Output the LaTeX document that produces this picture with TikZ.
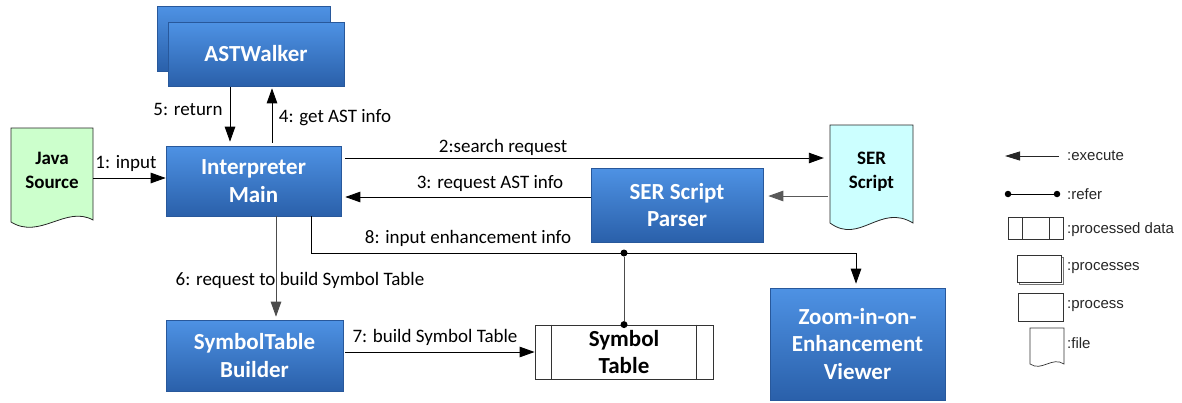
\documentclass[tikz,border=0pt]{standalone}
\usepackage{fontspec}
\setmainfont{Carlito}
\newfontfamily\legfont{Liberation Sans}
\usetikzlibrary{arrows.meta,calc}
\definecolor{bluetop}{RGB}{78,146,228}
\definecolor{bluebot}{RGB}{42,96,170}
\definecolor{blueedge}{RGB}{40,88,155}
\definecolor{javagreen}{RGB}{204,255,204}
\definecolor{sercyan}{RGB}{204,255,255}
\begin{document}
\begin{tikzpicture}[x=1pt,y=-1pt,
  bluebox/.style={rectangle, draw=blueedge, line width=0.6pt, top color=bluetop, bottom color=bluebot,
    text=white, font=\fontsize{23}{27.5}\selectfont\bfseries, align=center, inner sep=0pt},
  filetext/.style={font=\fontsize{19}{24}\selectfont\bfseries, align=center, inner sep=0pt},
  lbl/.style={font=\fontsize{19}{22}\selectfont, inner sep=0pt},
  exec/.style={draw=black, line width=0.9pt, -{Triangle[length=15pt,width=10.5pt]}},
  conn/.style={draw=black!80, line width=0.9pt},
  dot/.style={circle, fill=black, inner sep=0pt, minimum size=7pt},
  leg/.style={font=\legfont\fontsize{15}{18}\selectfont, anchor=west, inner sep=0pt, text=black!85},
  legbox/.style={draw=black!80, line width=0.7pt, fill=white}
]
\useasboundingbox (0,0) rectangle (1182,402);

% blue process boxes
\node[bluebox, minimum width=173pt, minimum height=65pt] (astb) at (243.5,38.5) {};
\node[bluebox, minimum width=176pt, minimum height=64pt] (astf) at (256,54) {ASTWalker};
\node[bluebox, minimum width=175pt, minimum height=70pt] (interp) at (253.5,181) {Interpreter\\Main};
\node[bluebox, minimum width=172pt, minimum height=74pt] (parser) at (677,205) {SER Script\\Parser};
\node[bluebox, minimum width=177pt, minimum height=71pt] (builder) at (254.5,355.5) {SymbolTable\\Builder};
\node[bluebox, minimum width=175pt, minimum height=112pt] (viewer) at (857.5,344) {Zoom-in-on-\\Enhancement\\Viewer};

% files
\draw[fill=javagreen, draw=black!85, line width=0.8pt] (11,128) -- (93,128) -- (93,220)
  .. controls (66,205) and (40,240) .. (11,222) -- cycle;
\node[filetext, minimum width=82pt] (java) at (52,170.5) {Java\\Source};
\draw[fill=sercyan, draw=black!85, line width=0.8pt] (830,125) -- (913,125) -- (913,223)
  .. controls (880,203) and (860,245) .. (830,223) -- cycle;
\node[filetext, minimum width=83pt] (ser) at (871.5,171.5) {SER\\Script};

% processed data
\node[draw=black!80, line width=0.8pt, fill=white, minimum width=178pt, minimum height=54pt,
  font=\fontsize{23}{27}\selectfont\bfseries, align=center, inner sep=0pt] (symtab) at (624,352) {Symbol\\Table};
\draw[draw=black!80, line width=0.8pt] ([xshift=17pt]symtab.north west) -- ([xshift=17pt]symtab.south west);
\draw[draw=black!80, line width=0.8pt] ([xshift=-17pt]symtab.north east) -- ([xshift=-17pt]symtab.south east);

% connectors
\draw[exec] (java.east |- 0,178) -- (interp.west |- 0,178);
\draw[exec, shorten <=4pt, shorten >=6pt] (interp.east |- 0,158) -- (ser.west |- 0,158);
\draw[exec, draw=black!65, shorten <=2pt, shorten >=5pt] (ser.west |- 0,196) -- (parser.east |- 0,196);
\draw[exec, shorten >=4pt] (parser.west |- 0,197) -- (interp.east |- 0,197);
\draw[exec, shorten <=3pt, shorten >=2pt] (interp.north -| 272,0) -- (astf.south -| 272,0);
\draw[exec, shorten <=1pt, shorten >=4pt] (astf.south -| 230,0) -- (interp.north -| 230,0);
\draw[exec, draw=black!70, shorten >=3pt] (interp.south -| 276,0) -- (builder.north -| 276,0);
\coordinate (c8a) at (311,253);
\coordinate (c8b) at (856,253);
\draw[exec, shorten >=4pt] (interp.south -| 311,0) -- (c8a) -- (c8b) -- (viewer.north -| 856,0);
\node[dot] (d1) at (624,253) {};
\node[dot] (d2) at (symtab.north) {};
\draw[conn, draw=black!70] (d1) -- (d2);
\draw[exec, shorten <=2pt] (builder.east |- symtab.west) -- (symtab.west);

% labels
\node[lbl] (l5) at (188,109) {5: return};
\node[lbl] (l4) at (335,118) {4: get AST info};
\node[lbl] (l1) at (126,163) {1: input};
\node[lbl] (l2) at (503,147) {2:search request};
\node[lbl] (l3) at (490,183) {3: request AST info};
\node[lbl] (l8) at (468,238) {8: input enhancement info};
\node[lbl] (l6) at (300,280) {6: request to build Symbol Table};
\node[lbl] (l7) at (435,337) {7: build Symbol Table};

% legend
\coordinate (le1) at (1059,156);
\coordinate (le2) at (1005,156);
\draw[draw=black!85, line width=0.9pt, -{Triangle[length=15pt,width=9pt]}] (le1) -- (le2);
\node[leg] (t1) at (1067,156) {:execute};
\node[dot, minimum size=6.5pt] (lr1) at (1008,194) {};
\node[dot, minimum size=6.5pt] (lr2) at (1057,194) {};
\draw[line width=0.8pt] (lr1) -- (lr2);
\node[leg] (t2) at (1067,194) {:refer};
\draw[legbox] (1008,217) rectangle (1063,239);
\draw[draw=black!80, line width=0.7pt] (1022,217) -- (1022,239);
\draw[draw=black!80, line width=0.7pt] (1049,217) -- (1049,239);
\node[leg] (t3) at (1067,230) {:processed data};
\draw[legbox, draw=black!55] (1019,257) rectangle (1063,284);
\draw[legbox] (1017,255) rectangle (1061,282);
\node[leg] (t4) at (1067,268) {:processes};
\draw[legbox] (1018,293) rectangle (1063,321);
\node[leg] (t5) at (1067,306) {:process};
\draw[legbox] (1030,328) -- (1064,328) -- (1064,364)
  .. controls (1052,356) and (1042,372) .. (1030,364) -- cycle;
\node[leg] (t6) at (1067,343) {:file};
\end{tikzpicture}
\end{document}
